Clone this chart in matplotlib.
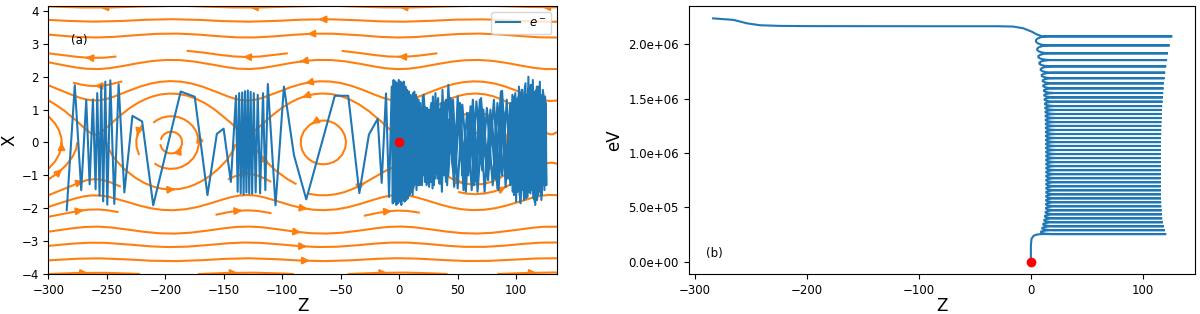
import numpy as np
import matplotlib
matplotlib.use("Agg")
import matplotlib.pyplot as plt
from matplotlib.path import Path
from matplotlib.patches import PathPatch
from matplotlib.ticker import FormatStrFormatter

plt.rcParams['font.family'] = ['DejaVu Sans']
plt.rcParams['font.size'] = 8.5

# ---------------- panel (a) : background field (streamlines) ----------------
FIELD_PERIOD = 130.0      # spatial period along Z
FIELD_O_POINT = -195.0    # centre of one vortex (O-point)
FIELD_AMP = 0.55
FIELD_WIDTH = 2.3
Z_GRID = (-300, 135)
X_GRID = (-4, 4.15)

# ---------------- panel (a) : electron trajectory X(Z) ----------------
traj_sparse = [(-284.4, -2.06), (-277.5, 1.74), (-272.0, -1.45), (-267.7, 1.29), (-264.8, -1.27),
               (-262.0, 1.31), (-259.7, -1.42), (-258.3, 1.50), (-256.3, -1.62), (-254.9, 1.72),
               (-253.2, -1.79), (-251.4, 1.85), (-249.7, -1.89), (-247.1, 1.89), (-243.7, -1.87),
               (-240.0, 1.77), (-235.1, -1.52), (-228.2, 0.81), (-219.9, 0.64), (-210.4, -1.91),
               (-186.9, 1.55), (-174.9, 1.39), (-164.0, -1.60), (-156.0, 0.26), (-150.2, 0.42),
               (-144.0, -1.20), (-139.6, 1.42)]
traj_cluster2 = [(-138.2, -1.50), (-136.9, 1.50), (-135.6, -1.55), (-134.3, 1.52), (-133.1, -1.58),
                 (-131.9, 1.56), (-130.7, -1.52), (-129.5, 1.58), (-128.3, -1.55), (-127.1, 1.54),
                 (-125.8, -1.56), (-124.4, 1.50), (-122.8, -1.52), (-121.0, 1.45), (-119.0, -1.55),
                 (-116.5, 1.50), (-114.5, -1.45), (-112.4, 1.78)]
traj_middle = [(-105.8, -1.91), (-98.6, 1.70), (-90.0, -0.39), (-79.5, -1.73), (-55.1, 1.42),
               (-43.6, 1.42), (-34.1, -1.54), (-25.9, 0.24), (-18.4, 0.72), (-15.0, -1.23),
               (-11.3, 1.49), (-8.7, -1.66), (-6.4, 1.70)]
traj_entry = [(-5.5, -1.85), (-4.8, 1.90), (-4.0, -1.80), (-3.3, 1.85), (-2.5, -1.90), (-1.8, 1.80),
              (-1.0, -1.85), (-0.3, 1.90), (0.4, -1.80), (1.1, 1.85), (1.8, -1.90), (2.5, 1.80),
              (3.2, -1.75), (3.9, 1.85), (4.6, -1.80), (5.3, 1.70), (6.0, -1.75), (6.7, 1.60),
              (7.4, -1.70), (8.1, 1.55), (8.8, -1.60), (9.5, 1.45), (10.2, -1.50), (11.0, 1.30),
              (12.0, -1.40)]
traj_pass1 = [(12.0, 1.20), (13.5, -1.10), (15.0, 1.35), (16.5, -0.95), (18.0, 1.00), (19.5, -1.30),
              (21.0, 1.45), (22.5, -1.00), (24.0, 0.90), (25.5, -1.20), (27.0, 1.10), (28.5, -1.40),
              (30.0, 1.00), (31.5, -0.90), (33.0, 1.30), (35.0, -1.25), (37.0, 1.60), (39.5, -1.00),
              (42.0, 1.75), (46.0, -0.80), (51.0, 1.20), (55.0, -1.45), (60.0, 0.90), (64.0, -1.30),
              (69.0, 1.30), (73.0, -1.50), (78.0, 1.00), (82.0, -1.10), (87.0, 1.55), (91.0, -1.35),
              (95.0, 1.20), (97.0, -1.50), (98.5, 1.40), (100.0, -1.80), (101.5, 1.30), (103.0, -1.60),
              (104.5, 1.50), (106.0, -1.30), (107.5, 1.70), (109.0, -1.55), (110.5, 2.00), (112.0, -1.40),
              (113.5, 1.75), (115.0, -1.70), (116.5, 1.50), (118.0, -1.75), (119.5, 1.60), (121.0, -1.40),
              (122.5, 1.45), (124.0, -1.30), (125.3, 1.20)]
traj_pass2 = [(124.6, -1.10), (123.3, 1.50), (121.8, -1.60), (120.3, 1.85), (118.8, -1.50), (117.3, 1.60),
              (115.8, -1.80), (114.3, 1.90), (112.8, -1.45), (111.3, 1.55), (109.8, -1.65), (108.3, 1.35),
              (106.8, -1.75), (105.3, 1.60), (103.8, -1.85), (102.3, 1.30), (100.8, -1.40), (99.3, 1.50),
              (97.5, -1.20), (95.5, 1.10), (92.0, -0.90), (88.0, 1.57), (84.0, -1.40), (79.0, 0.80),
              (75.0, -1.00), (70.0, 1.35), (66.0, -1.20), (61.0, 1.10), (57.0, -1.50), (52.0, 1.20),
              (48.0, -0.90), (44.0, 1.35), (41.0, -1.30), (38.5, 1.20), (36.5, -1.50), (34.5, 1.00),
              (32.7, -1.10), (31.0, 1.50), (29.2, -0.95), (27.4, 1.20), (25.6, -1.35), (23.8, 1.05),
              (22.0, -1.20), (20.2, 1.40), (18.4, -1.00), (16.6, 1.30), (14.8, -1.45), (13.0, 1.55),
              (11.5, -1.60), (10.0, 1.40)]
traj_pass3 = [(10.5, -1.50), (11.7, 1.50), (12.9, -1.30), (14.1, 1.25), (15.3, -1.05), (16.5, 1.10),
              (17.7, -1.30), (18.9, 0.95), (20.1, -1.00), (21.3, 1.30), (22.5, -0.90), (23.7, 1.05),
              (24.9, -1.25), (26.1, 0.90), (27.3, -1.00), (28.5, 1.20), (29.7, -1.30), (30.9, 1.00),
              (32.1, -0.95), (33.3, 1.35), (35.0, -1.10), (37.0, 1.00), (40.0, -1.20), (43.0, 0.70),
              (47.0, -1.35), (50.0, 1.40), (54.0, -1.00), (58.0, 0.90), (62.0, -1.45), (66.0, 1.25),
              (71.0, -0.85), (75.0, 1.05), (80.0, -1.30), (84.0, 1.20), (88.0, -1.00), (92.0, 1.30),
              (95.0, -1.30), (96.8, 1.45), (98.2, -1.60), (99.6, 1.20), (101.0, -1.50), (102.4, 1.70),
              (103.8, -1.30), (105.2, 1.45), (106.6, -1.60), (108.0, 1.80), (109.4, -1.40), (110.8, 1.65),
              (112.2, -1.55), (113.6, 1.40), (115.0, -1.70), (116.4, 1.55), (117.8, -1.35), (119.2, 1.70),
              (120.6, -1.50), (122.0, 1.30), (123.4, -1.20), (124.8, 1.40), (125.8, -1.30)]
traj_pass4 = [(125.5, 0.90), (124.2, -1.45), (122.9, 1.60), (121.6, -1.75), (120.3, 1.45), (119.0, -1.60),
              (117.7, 1.70), (116.4, -1.90), (115.1, 1.55), (113.8, -1.30), (112.5, 1.75), (111.2, -1.50),
              (109.9, 1.45), (108.6, -1.70), (107.3, 1.30), (106.0, -1.45), (104.7, 1.60), (103.4, -1.80),
              (102.1, 1.40), (100.8, -1.20), (99.5, 1.35), (98.0, -1.45), (96.5, 1.00), (93.0, -1.10),
              (89.0, 0.95), (85.0, -1.45), (81.0, 1.30), (76.0, -1.15), (72.0, 1.00), (67.0, -1.50),
              (63.0, 1.30), (59.0, -1.00), (54.0, 1.15), (50.0, -1.40), (46.0, 1.30), (42.0, -1.00),
              (40.0, 1.30), (38.0, -1.00), (36.0, 1.20), (34.2, -1.25), (32.4, 0.90), (30.6, -1.10),
              (28.8, 1.40), (27.0, -1.20), (25.2, 1.00), (23.4, -1.30), (21.6, 1.10), (19.8, -0.90),
              (18.0, 1.20), (16.2, -1.30), (14.4, 1.45), (12.6, -1.20), (11.0, 1.20)]

# ---------------- panel (b) : energy vs Z ----------------
start_z = [0.0, 0.0, 0.6, 2.5, 6.0, 10.0]
start_e = [0.0, 0.15e6, 0.212e6, 0.240e6, 0.252e6, 0.255e6]
levels_e = [0.255, 0.291, 0.327, 0.364, 0.400, 0.437, 0.474, 0.511, 0.548, 0.584,
            0.621, 0.658, 0.695, 0.732, 0.769, 0.806, 0.843, 0.880, 0.917, 0.954,
            0.991, 1.028, 1.065, 1.101, 1.138, 1.175, 1.212, 1.249, 1.285, 1.322,
            1.359, 1.396, 1.432, 1.472, 1.512, 1.552, 1.595, 1.641, 1.688, 1.739,
            1.797, 1.855, 1.917, 1.990, 2.073]                      # x 1e6 eV
levels_zright = [120.8, 119.6, 118.7, 117.8, 117.2, 116.9, 116.6, 116.4, 116.3, 116.2,
                 116.1, 116.0, 116.0, 116.0, 116.0, 116.0, 116.0, 116.0, 116.0, 116.0,
                 116.0, 116.1, 116.1, 116.2, 116.2, 116.3, 116.3, 116.4, 116.5, 116.6,
                 116.7, 116.9, 117.2, 117.5, 117.8, 118.1, 118.4, 118.7, 119.3, 119.9,
                 120.8, 121.6, 122.3, 123.8, 126.2]
turns_zleft = [8.9, 10.1, 11.0, 11.9, 12.5, 13.1, 13.4, 13.5, 13.6, 13.6,
               13.7, 13.7, 13.7, 13.7, 13.7, 13.7, 13.7, 13.7, 13.6, 13.6,
               13.6, 13.5, 13.5, 13.5, 13.4, 13.4, 13.3, 13.3, 13.2, 13.1,
               13.0, 12.8, 12.5, 12.2, 11.9, 11.6, 11.0, 10.5, 9.6, 8.7,
               7.5, 6.6, 5.6, 4.5]
escape_z = [10.0, 5.0, 0.6, -6.8, -15.7, -30.0, -100.0, -200.0, -224.0, -241.7, -253.6, -265.4, -284.6]
escape_e = [2.073e6, 2.092e6, 2.117e6, 2.147e6, 2.163e6, 2.166e6, 2.166e6, 2.167e6, 2.169e6,
            2.175e6, 2.193e6, 2.224e6, 2.239e6]

origin = (0.0, 0.0)

BLUE = '#1f77b4'
ORANGE = '#ff7f0e'

fig = plt.figure(figsize=(12, 3.14), dpi=100)
ax1 = fig.add_axes([0.0404, 0.1274, 0.4238, 0.8535])
ax2 = fig.add_axes([0.5739, 0.1274, 0.4219, 0.8535])

# ---- panel (a)
zg = np.linspace(Z_GRID[0], Z_GRID[1], 300)
xg = np.linspace(X_GRID[0], X_GRID[1], 120)
ZZ, XX = np.meshgrid(zg, xg)
k = 2 * np.pi / FIELD_PERIOD
q = k * (ZZ - FIELD_O_POINT)
g = np.exp(-XX ** 2 / (2 * FIELD_WIDTH ** 2))
U = -XX * (1 - FIELD_AMP * (1 - np.cos(q)) * g / FIELD_WIDTH ** 2)
V = FIELD_AMP * k * np.sin(q) * g
ax1.streamplot(zg, xg, U, V, color=ORANGE, density=0.62, linewidth=1.5, arrowsize=1.0)

segments = [traj_sparse, traj_cluster2, traj_middle, traj_entry,
            traj_pass1, traj_pass2, traj_pass3, traj_pass4]
traj = np.array([p for seg in segments for p in seg])
ax1.plot(traj[:, 0], traj[:, 1], color=BLUE, lw=1.5, label='$e^-$', zorder=3)
ax1.plot([origin[0]], [origin[1]], 'o', color='red', ms=6, zorder=4)
ax1.set_xlim(Z_GRID)
ax1.set_ylim(X_GRID)
ax1.set_xlabel('Z', fontsize=12, labelpad=0)
ax1.set_ylabel('X', fontsize=12, labelpad=2)
ax1.text(0.045, 0.87, '(a)', transform=ax1.transAxes, va='center', ha='left')
ax1.legend(loc='upper right', fontsize=8.5)

# ---- panel (b)
W = 12.0
verts = [(z, e) for z, e in zip(start_z, start_e)]
codes = [Path.MOVETO] + [Path.LINETO] * (len(start_z) - 1)
lev = [e * 1e6 for e in levels_e]
for n in range(len(lev)):
    verts.append((levels_zright[n], lev[n])); codes.append(Path.LINETO)
    if n < len(lev) - 1:
        zl = turns_zleft[n]
        verts.append((zl + W, lev[n])); codes.append(Path.LINETO)
        verts += [(zl - W / 3, lev[n]), (zl - W / 3, lev[n + 1]), (zl + W, lev[n + 1])]
        codes += [Path.CURVE4] * 3
for z, e in zip(escape_z, escape_e):
    verts.append((z, e)); codes.append(Path.LINETO)
ax2.add_patch(PathPatch(Path(verts, codes), facecolor='none', edgecolor=BLUE, lw=1.5))
ax2.plot([origin[0]], [origin[1]], 'o', color='red', ms=6, zorder=4)
ax2.set_xlim(-305.5, 146.5)
ax2.set_ylim(-0.112e6, 2.352e6)
ax2.yaxis.set_major_formatter(FormatStrFormatter('%.1e'))
ax2.set_xlabel('Z', fontsize=12, labelpad=0)
ax2.set_ylabel('eV', fontsize=12, labelpad=4)
ax2.text(0.034, 0.077, '(b)', transform=ax2.transAxes, va='center', ha='left')

fig.savefig('out.png', dpi=100)
